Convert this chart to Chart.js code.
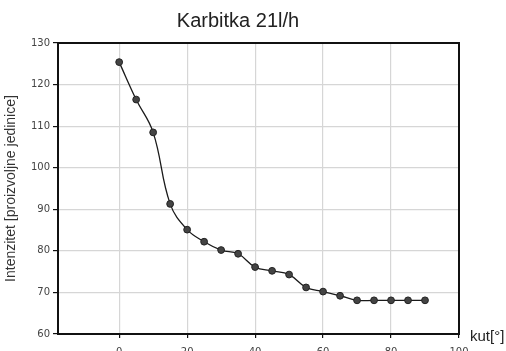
<!DOCTYPE html>
<html>
<head>
<meta charset="utf-8">
<script src="https://cdn.jsdelivr.net/npm/chart.js@4"></script>
<style>
  html, body { margin: 0; padding: 0; background: #fff; overflow: hidden; }
  #wrap { width: 506px; height: 351px; position: relative; }
</style>
</head>
<body>
<div id="wrap"><canvas id="chart" width="506" height="351"></canvas></div>
<script>
// ===============================
// Data
// ===============================
const angles = [0,5,10,15,20,25,30,35,40,45,50,55,60,65,70,75,80,85,90];
const intensity = [125.4,116.4,108.5,91.3,85.1,82.2,80.2,79.3,76.1,75.2,74.3,71.2,70.2,69.2,68.1,68.1,68.1,68.1,68.1];
const xTicks = [0,20,40,60,80,100];
const yTicks = [60,70,80,90,100,110,120,130];

const chartTitle = "Karbitka 21l/h";
const xLabel = "kut[°]";
const yLabel = "Intenzitet [proizvoljne jedinice]";

// ===============================
// Frame + title + x label
// ===============================
const extras = {
    id: "extras",
    afterDatasetsDraw(chart){
        const {ctx, chartArea:a} = chart;
        ctx.save();
        ctx.strokeStyle = "#111";
        ctx.lineWidth = 2;
        ctx.strokeRect(a.left, a.top, a.right - a.left, a.bottom - a.top);
        ctx.restore();
    },
    afterDraw(chart){
        const {ctx, chartArea:a} = chart;
        ctx.save();
        ctx.fillStyle = "#222";
        ctx.textAlign = "center";
        ctx.textBaseline = "alphabetic";
        ctx.font = "20px 'Liberation Sans', Arial, sans-serif";
        ctx.fillText(chartTitle, 238, 27);
        ctx.textAlign = "left";
        ctx.font = "15px 'Liberation Sans', Arial, sans-serif";
        ctx.fillText(xLabel, a.right + 11, 341);
        ctx.restore();
    }
};

const ctx = document.getElementById("chart").getContext("2d");
const chart = new Chart(ctx, {
    type: "line",
    data: {
        datasets: [{
            data: angles.map((x, i) => ({x: x, y: intensity[i]})),
            borderColor: "#1a1a1a",
            borderWidth: 1.3,
            tension: 0.4,
            pointRadius: 3.4,
            pointBackgroundColor: "#444",
            pointBorderColor: "#222",
            pointBorderWidth: 1,
            fill: false
        }]
    },
    options: {
        responsive: false,
        animation: false,
        layout: { padding: { top: 43, right: 47, left: 0, bottom: 0 } },
        plugins: {
            legend: { display: false },
            title: { display: false },
            tooltip: { enabled: false }
        },
        scales: {
            x: {
                type: "linear",
                min: -18,
                max: 100,
                afterBuildTicks: s => { s.ticks = xTicks.map(v => ({value: v})); },
                afterFit: s => { s.height = 17; },
                border: { display: false },
                grid: { color: "#d6d6d6", lineWidth: 1.2, tickLength: 4, tickColor: "#111" },
                ticks: {
                    padding: 8,
                    color: "#444",
                    font: { family: "'DejaVu Sans', sans-serif", size: 10 },
                    maxRotation: 0
                }
            },
            y: {
                min: 60,
                max: 130,
                afterBuildTicks: s => { s.ticks = yTicks.map(v => ({value: v})); },
                afterFit: s => { s.width = 58; },
                border: { display: false },
                grid: { color: "#d6d6d6", lineWidth: 1.2, tickLength: 5, tickColor: "#111" },
                ticks: {
                    padding: 3,
                    color: "#444",
                    font: { family: "'DejaVu Sans', sans-serif", size: 10 }
                },
                title: {
                    display: true,
                    text: yLabel,
                    color: "#333",
                    padding: { top: 3, bottom: 0 },
                    font: { family: "'Liberation Sans', Arial, sans-serif", size: 14 }
                }
            }
        }
    },
    plugins: [extras]
});
</script>
</body>
</html>
